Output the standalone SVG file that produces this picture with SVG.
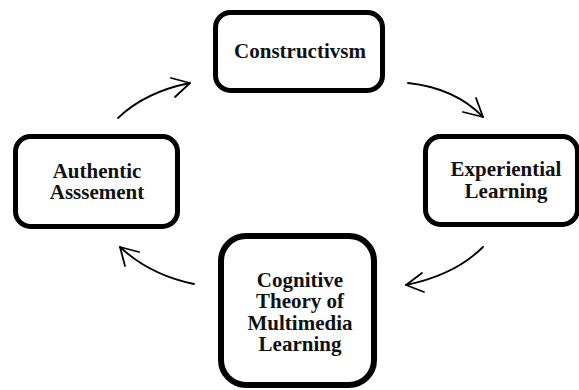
<svg xmlns="http://www.w3.org/2000/svg" width="579" height="390" viewBox="0 0 579 390">
<style>
.box{fill:#fff;stroke:#000;stroke-width:5}
.lbl{font-family:"Liberation Serif","Times New Roman",serif;font-weight:bold;font-size:21px;fill:#111;text-anchor:middle}
.arr{fill:none;stroke:#000;stroke-width:1.8;stroke-linecap:round;stroke-linejoin:round}
</style>
<rect width="579" height="390" fill="#fff"/>
<g id="connectors">
<path class="arr" d="M118,118 Q145,92 190,83"/>
<path class="arr" d="M171,78 L190,83 L175,97"/>
<path class="arr" d="M408,83 Q455,88 483,117"/>
<path class="arr" d="M476,98 L483,117 L463,112"/>
<path class="arr" d="M483,247 Q455,275 406,285"/>
<path class="arr" d="M422,273 L406,285 L424,292"/>
<path class="arr" d="M194,284 Q150,275 120,247"/>
<path class="arr" d="M139,252 L120,247 L125,266"/>
</g>
<g id="constructivism">
<rect class="box" x="215.5" y="12.5" width="167" height="78" rx="15"/>
<text class="lbl" x="300" y="58">Constructivsm</text>
</g>
<g id="experiential">
<rect class="box" x="425.5" y="136.5" width="152" height="88" rx="15"/>
<text class="lbl" x="506" y="176">Experiential</text>
<text class="lbl" x="506" y="198">Learning</text>
</g>
<g id="cognitive">
<rect class="box" x="221" y="236" width="153" height="149" rx="25" style="stroke-width:6"/>
<text class="lbl" x="300" y="287">Cognitive</text>
<text class="lbl" x="300" y="308">Theory of</text>
<text class="lbl" x="300" y="330">Multimedia</text>
<text class="lbl" x="300" y="351">Learning</text>
</g>
<g id="authentic">
<rect class="box" x="15.5" y="136.5" width="162" height="90" rx="15"/>
<text class="lbl" x="97" y="178">Authentic</text>
<text class="lbl" x="97" y="199">Asssement</text>
</g>
</svg>
